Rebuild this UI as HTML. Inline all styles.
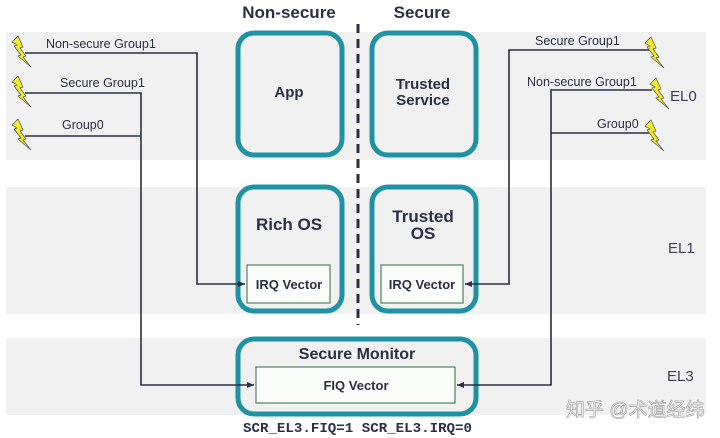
<!DOCTYPE html>
<html><head><meta charset="utf-8"><style>
body{margin:0;background:#fff;}
svg{display:block;font-family:"Liberation Sans",Arial,sans-serif;}
</style></head><body>
<svg width="720" height="438" viewBox="0 0 720 438" xmlns="http://www.w3.org/2000/svg">
<defs>
<g id="bolt"><polygon points="0,6 6,0 11,11 8,12 14,20 11,21 19,31 6,20 9,19 2,10 5,9" fill="#f2ea2a" stroke="#555" stroke-width="0.7"/></g>
<marker id="ar" markerWidth="8" markerHeight="8" refX="7" refY="4" orient="auto" markerUnits="userSpaceOnUse"><path d="M0,1 L7,4 L0,7 z" fill="#2a2f45"/></marker>
</defs>
<rect x="6" y="32" width="700" height="128" fill="#f1f1f2"/>
<rect x="6" y="187" width="700" height="127" fill="#f1f1f2"/>
<rect x="6" y="338" width="700" height="77" fill="#f1f1f2"/>

<text x="289" y="18" font-size="17" font-weight="bold" fill="#2a2f45" text-anchor="middle">Non-secure</text>
<text x="422" y="18" font-size="17" font-weight="bold" fill="#2a2f45" text-anchor="middle">Secure</text>
<line x1="358" y1="24" x2="358" y2="325" stroke="#2a2f45" stroke-width="3" stroke-dasharray="9,6"/>

<g fill="none" stroke="#1f93a3" stroke-width="5">
<rect x="238" y="33" width="104" height="122" rx="16"/>
<rect x="372" y="33" width="104" height="122" rx="16"/>
<rect x="238" y="187" width="104" height="124" rx="16"/>
<rect x="372" y="187" width="104" height="124" rx="16"/>
<rect x="238" y="339" width="238" height="75" rx="16"/>
</g>
<g fill="#fbfdfb" stroke="#5a8c66" stroke-width="1.3">
<rect x="247" y="265" width="83" height="38"/>
<rect x="381" y="265" width="82" height="38"/>
<rect x="256" y="367" width="199" height="36"/>
</g>
<g font-weight="bold" fill="#2a2f45" text-anchor="middle">
<text x="289" y="97" font-size="15">App</text>
<text x="423" y="89" font-size="15">Trusted</text>
<text x="423" y="105" font-size="15">Service</text>
<text x="289" y="230" font-size="17">Rich OS</text>
<text x="423" y="222" font-size="17">Trusted</text>
<text x="423" y="239" font-size="17">OS</text>
<text x="289" y="289" font-size="13">IRQ Vector</text>
<text x="422" y="289" font-size="13">IRQ Vector</text>
<text x="357" y="359" font-size="16">Secure Monitor</text>
<text x="356" y="390" font-size="13">FIQ Vector</text>
</g>

<g fill="none" stroke="#2a2f45" stroke-width="1.6">
<polyline points="25,53 197,53 197,284 245,284" marker-end="url(#ar)"/>
<polyline points="25,93 141,93 141,385 254,385" marker-end="url(#ar)"/>
<line x1="25" y1="136" x2="141" y2="136"/>
<polyline points="649,50 509,50 509,284 465,284" marker-end="url(#ar)"/>
<polyline points="652,90 551,90 551,385 457,385" marker-end="url(#ar)"/>
<line x1="649" y1="133" x2="551" y2="133"/>
</g>
<g font-size="12.5" fill="#2a2f45">
<text x="46" y="48">Non-secure Group1</text>
<text x="60" y="87">Secure Group1</text>
<text x="62" y="129">Group0</text>
<text x="535" y="45">Secure Group1</text>
<text x="527" y="86">Non-secure Group1</text>
<text x="597" y="128">Group0</text>
</g>
<use href="#bolt" x="12" y="36"/>
<use href="#bolt" x="12" y="76"/>
<use href="#bolt" x="12" y="119"/>
<use href="#bolt" x="645" y="37"/>
<use href="#bolt" x="650" y="78"/>
<use href="#bolt" x="645" y="120"/>
<g font-size="15" fill="#3a3f55">
<text x="670" y="101">EL0</text>
<text x="668" y="253">EL1</text>
<text x="667" y="381">EL3</text>
</g>
<text x="566" y="416" font-size="19" fill="#ffffff" stroke="#a8a8a8" stroke-width="0.7" font-family="'Liberation Sans','Noto Sans CJK SC',sans-serif">知乎 @术道经纬</text>
<text x="243" y="432" font-size="14" font-weight="bold" fill="#2a2f45" font-family="'Liberation Mono',monospace" textLength="229" lengthAdjust="spacingAndGlyphs">SCR_EL3.FIQ=1 SCR_EL3.IRQ=0</text>
</svg>
</body></html>
